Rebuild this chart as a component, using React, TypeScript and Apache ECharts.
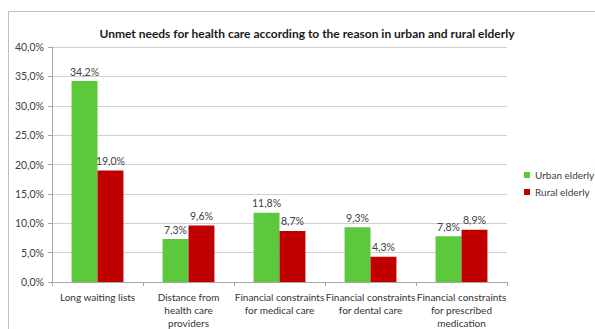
import React, { useEffect, useRef } from "react";
import * as echarts from "echarts";

const categories = [
  "Long waiting lists",
  "Distance from\nhealth care\nproviders",
  "Financial constraints\nfor medical care",
  "Financial constraints\nfor dental care",
  "Financial constraints\nfor prescribed\nmedication",
];
const urban = [34.2, 7.3, 11.8, 9.3, 7.8];
const rural = [19.0, 9.6, 8.7, 4.3, 8.9];
const seriesNames = ["Urban elderly", "Rural elderly"];
const title = "Unmet needs for health care according to the reason in urban and rural elderly";

const fmt = (v: number) => v.toFixed(1).replace(".", ",") + "%";
const FONT = "Lato, 'Open Sans', sans-serif";

export default function App() {
  const ref = useRef<HTMLDivElement>(null);
  useEffect(() => {
    if (!ref.current) return;
    const chart = echarts.init(ref.current, undefined, { renderer: "svg" });
    chart.setOption({
      animation: false,
      backgroundColor: "#ffffff",
      textStyle: { fontFamily: FONT },
      title: {
        text: title,
        left: 302,
        top: 22,
        textAlign: "center",
        textStyle: { fontSize: 12, fontWeight: "bold", color: "#1a1a1a", fontFamily: FONT },
      },
      graphic: [
        {
          type: "rect",
          shape: { x: 8.5, y: 11.5, width: 600, height: 330 },
          style: { fill: "none", stroke: "#bfbfbf", lineWidth: 1 },
          silent: true,
        },
      ],
      legend: {
        orient: "vertical",
        left: 524,
        top: 170,
        padding: 0,
        itemWidth: 6,
        itemHeight: 6,
        itemGap: 7,
        icon: "rect",
        textStyle: { fontSize: 10, color: "#404040", fontFamily: FONT },
        data: seriesNames,
      },
      grid: { left: 52, right: 88, top: 47, bottom: 46, containLabel: false },
      xAxis: {
        type: "category",
        data: categories,
        axisLine: { lineStyle: { color: "#a6a6a6" } },
        axisTick: { show: true, length: 4, lineStyle: { color: "#a6a6a6" } },
        axisLabel: { fontSize: 10, color: "#333333", lineHeight: 13, interval: 0, margin: 8, fontFamily: FONT },
      },
      yAxis: {
        type: "value",
        min: 0,
        max: 40,
        interval: 5,
        axisLine: { show: true, lineStyle: { color: "#a6a6a6" } },
        axisTick: { show: true, length: 4, lineStyle: { color: "#a6a6a6" } },
        splitLine: { lineStyle: { color: "#d0d0d0" } },
        axisLabel: { fontSize: 10.5, color: "#404040", formatter: (v: number) => fmt(v), margin: 8, fontFamily: FONT },
      },
      series: [
        {
          name: seriesNames[0],
          type: "bar",
          data: urban,
          barGap: "0%",
          barCategoryGap: "43%",
          itemStyle: { color: "#5cc83c" },
          label: { show: true, position: "top", fontSize: 10.5, color: "#404040", formatter: (p: any) => fmt(p.value), distance: 4 },
        },
        {
          name: seriesNames[1],
          type: "bar",
          data: rural,
          barGap: "0%",
          barCategoryGap: "43%",
          itemStyle: { color: "#c00000" },
          label: { show: true, position: "top", fontSize: 10.5, color: "#404040", formatter: (p: any) => fmt(p.value), distance: 4 },
        },
      ],
    });
    return () => chart.dispose();
  }, []);
  return <div ref={ref} style={{ position: "absolute", left: 0, top: 0, width: 595, height: 329 }} />;
}
